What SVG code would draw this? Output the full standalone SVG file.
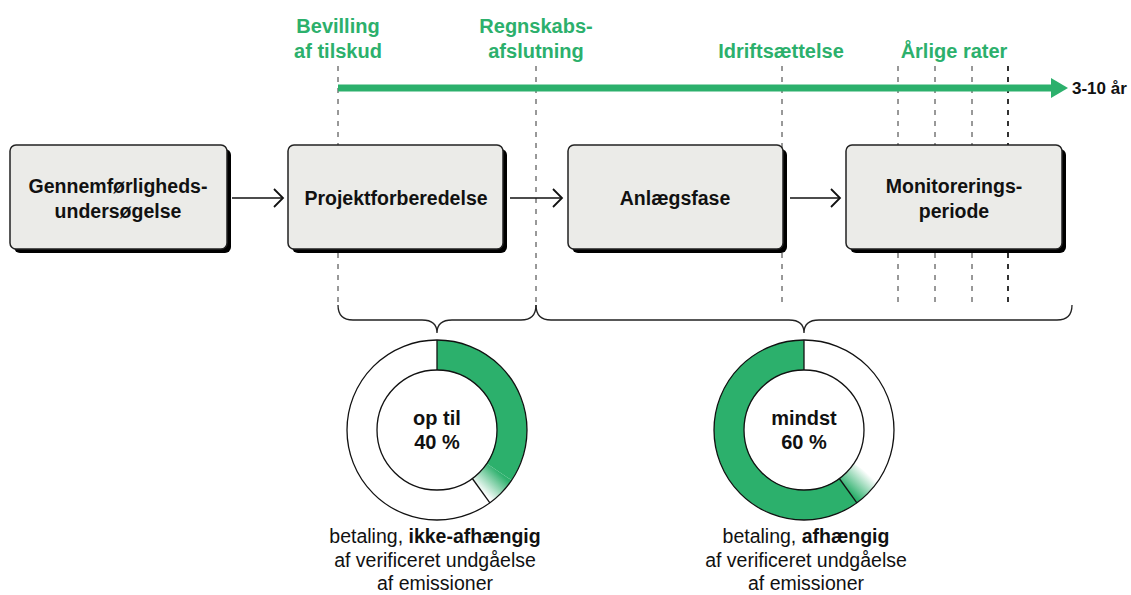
<svg xmlns="http://www.w3.org/2000/svg" width="1131" height="595" viewBox="0 0 1131 595">
<style>
.box{fill:#ebebe8;stroke:#222;stroke-width:1.5}
.shadow{fill:#000}
.bt{font-family:"Liberation Sans",Arial,sans-serif;font-weight:bold;font-size:19.5px;fill:#111;text-anchor:middle}
.gl{font-family:"Liberation Sans",Arial,sans-serif;font-weight:bold;font-size:20px;fill:#2cb06c;text-anchor:middle}
.dt{font-family:"Liberation Sans",Arial,sans-serif;font-weight:bold;font-size:20px;fill:#111;text-anchor:middle}
.nt{font-family:"Liberation Sans",Arial,sans-serif;font-size:19.5px;fill:#111;text-anchor:middle}
.dash{stroke:#333;stroke-width:1;stroke-dasharray:5 6;fill:none}
.conn{stroke:#111;stroke-width:1.4;fill:none}
.head{stroke:#111;stroke-width:1.8;fill:none}
.ring{fill:none;stroke:#111;stroke-width:1.3}
</style>
<defs>
<linearGradient id="fade1" gradientUnits="userSpaceOnUse" x1="499" y1="472" x2="481" y2="491">
<stop offset="0" stop-color="#2cb06c"/><stop offset="1" stop-color="#fff"/>
</linearGradient>
<linearGradient id="fade2" gradientUnits="userSpaceOnUse" x1="866" y1="472" x2="848" y2="491">
<stop offset="0" stop-color="#fff"/><stop offset="1" stop-color="#2cb06c"/>
</linearGradient>
</defs>

<!-- dashed guide lines -->
<g id="guides">
<line class="dash" x1="338" y1="66" x2="338" y2="305"/>
<line class="dash" x1="536" y1="66" x2="536" y2="305"/>
<line class="dash" x1="782" y1="66" x2="782" y2="305"/>
<line class="dash" x1="898" y1="66" x2="898" y2="305"/>
<line class="dash" x1="935" y1="66" x2="935" y2="305"/>
<line class="dash" x1="972" y1="66" x2="972" y2="305"/>
<line class="dash" x1="1008" y1="66" x2="1008" y2="305" style="stroke:#000;stroke-width:1.6"/>
</g>

<!-- timeline -->
<g id="timeline">
<line x1="338" y1="88" x2="1053" y2="88" stroke="#2cb06c" stroke-width="7"/>
<polygon points="1051,78 1068,88 1051,98" fill="#2cb06c"/>
<text x="1072" y="94" font-family="Liberation Sans,Arial,sans-serif" font-weight="bold" font-size="17" fill="#111">3-10 år</text>
</g>

<g id="labels">
<text class="gl" x="338" y="33">Bevilling</text>
<text class="gl" x="338" y="58">af tilskud</text>
<text class="gl" x="536" y="33">Regnskabs-</text>
<text class="gl" x="536" y="58">afslutning</text>
<text class="gl" x="781" y="58">Idriftsættelse</text>
<text class="gl" x="954" y="58">Årlige rater</text>
</g>

<!-- nodes -->
<g id="node1">
<rect class="shadow" x="14" y="149" width="217" height="104" rx="6"/>
<rect class="box" x="10" y="145" width="217" height="104" rx="6"/>
<text class="bt" x="118" y="193">Gennemførligheds-</text>
<text class="bt" x="118" y="218">undersøgelse</text>
</g>
<g id="node2">
<rect class="shadow" x="292" y="149" width="215" height="104" rx="6"/>
<rect class="box" x="288" y="145" width="215" height="104" rx="6"/>
<text class="bt" x="396" y="205">Projektforberedelse</text>
</g>
<g id="node3">
<rect class="shadow" x="572" y="149" width="215" height="104" rx="6"/>
<rect class="box" x="568" y="145" width="215" height="104" rx="6"/>
<text class="bt" x="675" y="205">Anlægsfase</text>
</g>
<g id="node4">
<rect class="shadow" x="850" y="149" width="216" height="104" rx="6"/>
<rect class="box" x="846" y="145" width="216" height="104" rx="6"/>
<text class="bt" x="954" y="193">Monitorerings-</text>
<text class="bt" x="954" y="218">periode</text>
</g>

<!-- connectors -->
<g id="connectors">
<line class="conn" x1="232" y1="198" x2="283" y2="198"/>
<polyline class="head" points="274,189 283,198 274,207"/>
<line class="conn" x1="510" y1="198" x2="562" y2="198"/>
<polyline class="head" points="553,189 562,198 553,207"/>
<line class="conn" x1="790" y1="198" x2="840" y2="198"/>
<polyline class="head" points="831,189 840,198 831,207"/>
</g>

<!-- braces -->
<g id="braces" fill="none" stroke="#222" stroke-width="1.3">
<path d="M338 305 Q338 320 353 320 L422 320 Q437 320 437 333 Q437 320 452 320 L521 320 Q536 320 536 305"/>
<path d="M536 305 Q536 320 551 320 L789 320 Q804 320 804 333 Q804 320 819 320 L1057 320 Q1072 320 1072 305"/>
</g>

<!-- donut 1 -->
<g id="donut1">
<circle cx="437" cy="430" r="90" fill="#fff"/>
<path d="M437 340 A90 90 0 0 1 511.6 480.3 L486.7 463.5 A60 60 0 0 0 437 370 Z" fill="#2cb06c"/>
<path d="M511.6 480.3 A90 90 0 0 1 489.9 502.8 L472.3 478.5 A60 60 0 0 0 486.7 463.5 Z" fill="url(#fade1)"/>
<circle class="ring" cx="437" cy="430" r="90"/>
<circle class="ring" cx="437" cy="430" r="60" fill="#fff"/>
<line class="ring" x1="437" y1="340" x2="437" y2="370"/>
<line class="ring" x1="472.3" y1="478.5" x2="489.9" y2="502.8"/>
<text class="dt" x="437" y="425">op til</text>
<text class="dt" x="437" y="449">40 %</text>
<text class="nt" x="435" y="543">betaling, <tspan font-weight="bold">ikke-afhængig</tspan></text>
<text class="nt" x="435" y="567">af verificeret undgåelse</text>
<text class="nt" x="435" y="590">af emissioner</text>
</g>

<!-- donut 2 -->
<g id="donut2">
<circle cx="804" cy="430" r="90" fill="#fff"/>
<path d="M856.9 502.8 A90 90 0 1 1 804 340 L804 370 A60 60 0 1 0 839.3 478.5 Z" fill="#2cb06c"/>
<path d="M878.6 480.3 A90 90 0 0 1 856.9 502.8 L839.3 478.5 A60 60 0 0 0 853.7 463.5 Z" fill="url(#fade2)"/>
<circle class="ring" cx="804" cy="430" r="90"/>
<circle class="ring" cx="804" cy="430" r="60" fill="#fff"/>
<line class="ring" x1="804" y1="340" x2="804" y2="370"/>
<line class="ring" x1="839.3" y1="478.5" x2="856.9" y2="502.8"/>
<text class="dt" x="804" y="425">mindst</text>
<text class="dt" x="804" y="449">60 %</text>
<text class="nt" x="806" y="543">betaling, <tspan font-weight="bold">afhængig</tspan></text>
<text class="nt" x="806" y="567">af verificeret undgåelse</text>
<text class="nt" x="806" y="590">af emissioner</text>
</g>
</svg>
